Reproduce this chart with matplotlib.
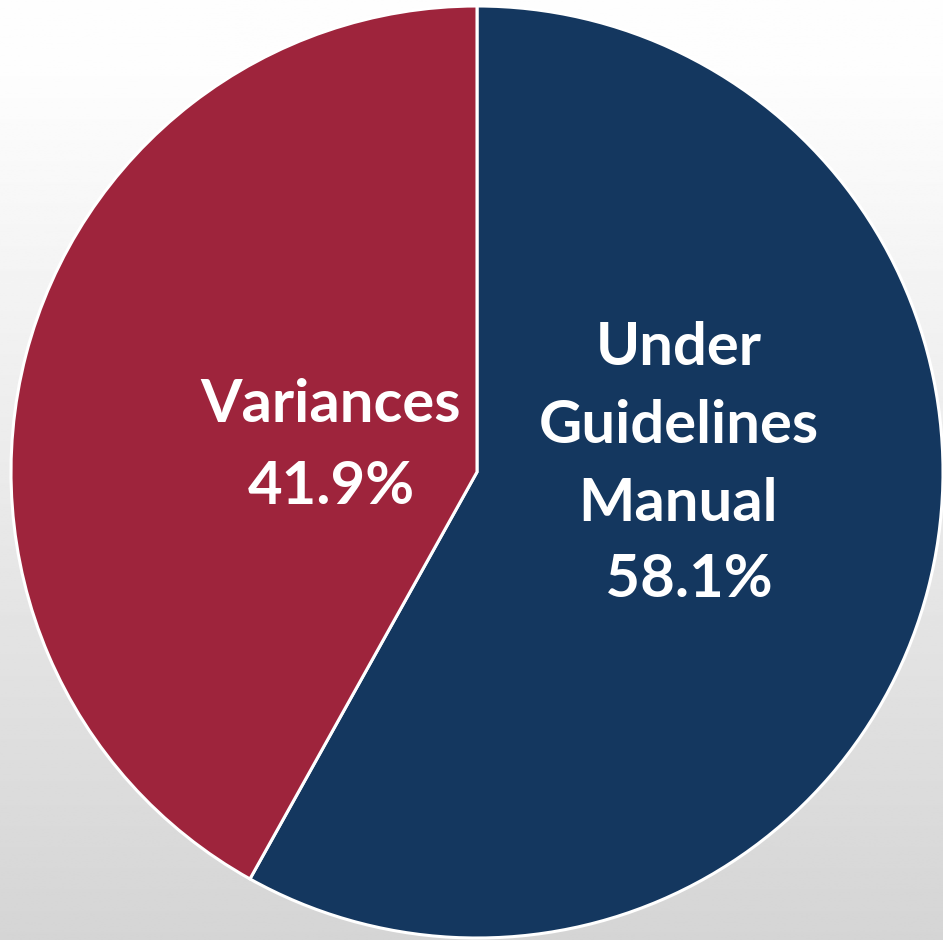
import matplotlib
matplotlib.use("Agg")
import matplotlib.pyplot as plt
import numpy as np

# Data
categories = ["Under Guidelines Manual", "Variances"]
shares = [58.1, 41.9]
colors = ["#14375F", "#9E243C"]
label_lines = [["Under", "Guidelines", "Manual", " 58.1%"], ["Variances", "41.9%"]]

W, H = 943, 940
fig = plt.figure(figsize=(W / 100, H / 100), dpi=100)

# background gradient
bg = fig.add_axes([0, 0, 1, 1], zorder=0)
ys = np.linspace(0, 1, 400)
vals = np.where(ys < 60 / 940, 0.995, 0.995 - (ys - 60 / 940) / (1 - 60 / 940) * (0.995 - 0.835))
grad = np.tile(vals[:, None], (1, 2))
bg.imshow(grad, cmap="gray", vmin=0, vmax=1, aspect="auto", extent=[0, 1, 1, 0])
bg.set_axis_off()

cx, cy, R = 477, 472, 466
ax = fig.add_axes([(cx - R) / W, (H - cy - R) / H, 2 * R / W, 2 * R / H], zorder=1)
ax.patch.set_alpha(0)
ax.pie(shares, colors=colors, startangle=90, counterclock=False, radius=1,
       wedgeprops=dict(edgecolor="white", linewidth=2.2))
ax.set_xlim(-1, 1)
ax.set_ylim(-1, 1)
ax.set_aspect("equal")
ax.set_axis_off()

def px(x, y):
    return (x - cx) / R, (cy - y) / R

font = dict(family=["Lato", "DejaVu Sans"], weight="bold", color="white", fontsize=43)
# blue labels
blue_pos = [(679, 348), (679, 426), (678, 504), (682, 580)]
for txt, (x, y) in zip(label_lines[0], blue_pos):
    ax.text(*px(x, y), txt, ha="center", va="center", **font)
red_pos = [(331, 405), (331, 487)]
for txt, (x, y) in zip(label_lines[1], red_pos):
    ax.text(*px(x, y), txt, ha="center", va="center", **font)

fig.savefig("out.png", dpi=100)
